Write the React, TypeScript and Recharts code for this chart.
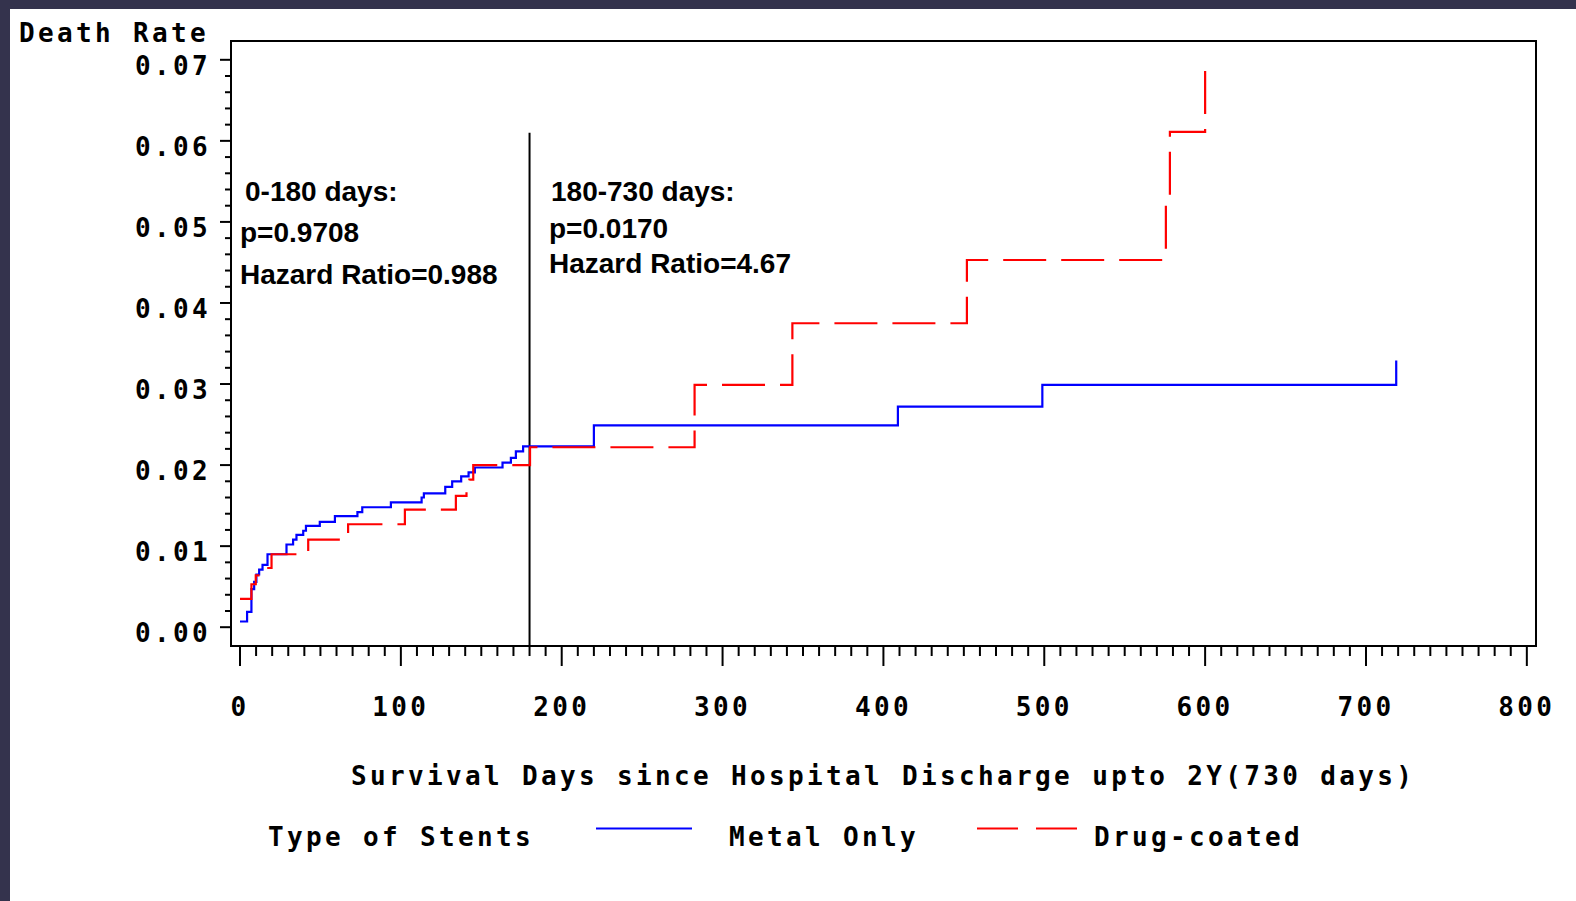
import { Line, LineChart, ReferenceArea, ReferenceLine, XAxis, YAxis } from "recharts";

type StepPoint = { day: number; rate: number };

// Kaplan-Meier style cumulative death rate, one point per step
const metalOnly: StepPoint[] = [
  { day: 0, rate: 0.0007 },
  { day: 4.4, rate: 0.0019 },
  { day: 7.1, rate: 0.0047 },
  { day: 8.8, rate: 0.0056 },
  { day: 10.2, rate: 0.0065 },
  { day: 11.9, rate: 0.0071 },
  { day: 14, rate: 0.0077 },
  { day: 17.1, rate: 0.009 },
  { day: 28.9, rate: 0.0102 },
  { day: 33, rate: 0.0108 },
  { day: 35.1, rate: 0.0114 },
  { day: 39.3, rate: 0.0119 },
  { day: 41, rate: 0.0125 },
  { day: 49.6, rate: 0.013 },
  { day: 59, rate: 0.0137 },
  { day: 73, rate: 0.0142 },
  { day: 76, rate: 0.0148 },
  { day: 93.8, rate: 0.0154 },
  { day: 112.9, rate: 0.016 },
  { day: 114.3, rate: 0.0165 },
  { day: 127.6, rate: 0.0173 },
  { day: 131.9, rate: 0.018 },
  { day: 137.5, rate: 0.0186 },
  { day: 142.1, rate: 0.0191 },
  { day: 146, rate: 0.0197 },
  { day: 163.2, rate: 0.0203 },
  { day: 168.4, rate: 0.0209 },
  { day: 171.5, rate: 0.0217 },
  { day: 176, rate: 0.0223 },
  { day: 220, rate: 0.0249 },
  { day: 409, rate: 0.0272 },
  { day: 498.8, rate: 0.0299 },
  { day: 718.8, rate: 0.0329 },
];

const drugCoated: StepPoint[] = [
  { day: 0, rate: 0.0035 },
  { day: 7.1, rate: 0.0053 },
  { day: 9.8, rate: 0.0064 },
  { day: 15.8, rate: 0.0073 },
  { day: 19.6, rate: 0.009 },
  { day: 42.4, rate: 0.0108 },
  { day: 67.2, rate: 0.0127 },
  { day: 102.5, rate: 0.0145 },
  { day: 134.2, rate: 0.0162 },
  { day: 140.8, rate: 0.0174 },
  { day: 142.6, rate: 0.0182 },
  { day: 145, rate: 0.02 },
  { day: 180.3, rate: 0.0222 },
  { day: 282.6, rate: 0.0299 },
  { day: 343.4, rate: 0.0375 },
  { day: 451.9, rate: 0.0453 },
  { day: 575.6, rate: 0.0532 },
  { day: 578.1, rate: 0.0611 },
  { day: 600, rate: 0.069 },
];

const dayMajorTicks = [0, 100, 200, 300, 400, 500, 600, 700, 800];
const rateMajorTicks = [0, 0.01, 0.02, 0.03, 0.04, 0.05, 0.06, 0.07];
const rateTickLabels = ["0.00", "0.01", "0.02", "0.03", "0.04", "0.05", "0.06", "0.07"];

const periodNotes = [
  { lines: ["0-180 days:", "p=0.9708", "Hazard Ratio=0.988"] },
  { lines: ["180-730 days:", "p=0.0170", "Hazard Ratio=4.67"] },
];

const cutoffDay = 180;

// minor ticks: every 10 days, every 0.002 of rate
const dayTicks = Array.from({ length: 81 }, (_, i) => i * 10);
const rateTicks = Array.from({ length: 36 }, (_, i) => Number((i * 0.002).toFixed(3)));

const X_DOMAIN: [number, number] = [-5.6, 805.7];
const Y_DOMAIN: [number, number] = [-0.00232, 0.07232];

const MONO = '"DejaVu Sans Mono", monospace';
const SANS = '"Liberation Sans", Arial, sans-serif';

const axisText = { fontFamily: MONO, fontWeight: 700, fontSize: 26, letterSpacing: 3.35, fill: "#000" };

function DayTick({ x, y, payload }: { x?: number; y?: number; payload?: { value: number } }) {
  const value = payload?.value ?? 0;
  const major = dayMajorTicks.includes(value);
  const px = x ?? 0;
  const py = y ?? 0;
  return (
    <g>
      <line x1={px} x2={px} y1={py} y2={py + (major ? 20 : 10)} stroke="#000" strokeWidth={2} />
      {major && (
        <text x={px} y={py + 70} textAnchor="middle" style={axisText}>
          {value}
        </text>
      )}
    </g>
  );
}

function RateTick({ x, y, payload }: { x?: number; y?: number; payload?: { value: number } }) {
  const value = payload?.value ?? 0;
  const idx = rateMajorTicks.findIndex((t) => Math.abs(t - value) < 1e-6);
  const px = x ?? 0;
  const py = y ?? 0;
  return (
    <g>
      <line x1={px - (idx >= 0 ? 11 : 6)} x2={px} y1={py} y2={py} stroke="#000" strokeWidth={2} />
      {idx >= 0 && (
        <text x={px - 20} y={py + 15} textAnchor="end" style={axisText}>
          {rateTickLabels[idx]}
        </text>
      )}
    </g>
  );
}

export default function App() {
  return (
    <div style={{ position: "absolute", left: 0, top: 0, width: 1576, height: 901, background: "#34334d" }}>
      <div style={{ position: "absolute", left: 10, top: 9, right: 0, bottom: 0, background: "#fff" }} />
      <div style={{ position: "absolute", left: 0, top: 0 }}>
        <LineChart width={1576} height={901} margin={{ top: 41, right: 40, left: 131, bottom: 195 }}>
          <XAxis
            type="number"
            dataKey="day"
            domain={X_DOMAIN}
            allowDataOverflow
            ticks={dayTicks}
            interval={0}
            tick={<DayTick />}
            tickSize={0}
            tickMargin={0}
            axisLine={false}
            height={60}
          />
          <YAxis
            type="number"
            dataKey="rate"
            domain={Y_DOMAIN}
            allowDataOverflow
            ticks={rateTicks}
            interval={0}
            tick={<RateTick />}
            tickSize={0}
            tickMargin={0}
            axisLine={false}
            width={100}
          />
          <ReferenceArea x1={X_DOMAIN[0]} x2={X_DOMAIN[1]} y1={Y_DOMAIN[0]} y2={Y_DOMAIN[1]} fill="none" fillOpacity={0} stroke="#000" strokeWidth={2} />
          <ReferenceLine
            segment={[
              { x: cutoffDay, y: Y_DOMAIN[0] },
              { x: cutoffDay, y: 0.061 },
            ]}
            stroke="#000"
            strokeWidth={2}
          />
          <Line data={metalOnly} dataKey="rate" type="stepAfter" stroke="#0000ff" strokeWidth={2.2} dot={false} activeDot={false} isAnimationActive={false} />
          <Line data={drugCoated} dataKey="rate" type="stepAfter" stroke="#ff0000" strokeWidth={2.2} strokeDasharray="43 15" dot={false} activeDot={false} isAnimationActive={false} />
        </LineChart>
      </div>
      <svg width={1576} height={901} style={{ position: "absolute", left: 0, top: 0, pointerEvents: "none" }}>
        <text x={19} y={42} style={axisText}>Death Rate</text>
        <text x={351} y={785} style={axisText}>Survival Days since Hospital Discharge upto 2Y(730 days)</text>

        {/* period annotations */}
        <g style={{ fontFamily: SANS, fontWeight: 700, fontSize: 28, fill: "#000" }}>
          <text x={245} y={201}>{periodNotes[0].lines[0]}</text>
          <text x={240} y={242}>{periodNotes[0].lines[1]}</text>
          <text x={240} y={284}>{periodNotes[0].lines[2]}</text>
          <text x={551} y={201}>{periodNotes[1].lines[0]}</text>
          <text x={549} y={238}>{periodNotes[1].lines[1]}</text>
          <text x={549} y={273}>{periodNotes[1].lines[2]}</text>
        </g>

        {/* legend */}
        <text x={268} y={846} style={axisText}>Type of Stents</text>
        <line x1={596} x2={692} y1={828.5} y2={828.5} stroke="#0000ff" strokeWidth={2.2} />
        <text x={729} y={846} style={axisText}>Metal Only</text>
        <line x1={977} x2={1077} y1={828.5} y2={828.5} stroke="#ff0000" strokeWidth={2.2} strokeDasharray="41 18" />
        <text x={1094} y={846} style={axisText}>Drug-coated</text>
      </svg>
    </div>
  );
}
